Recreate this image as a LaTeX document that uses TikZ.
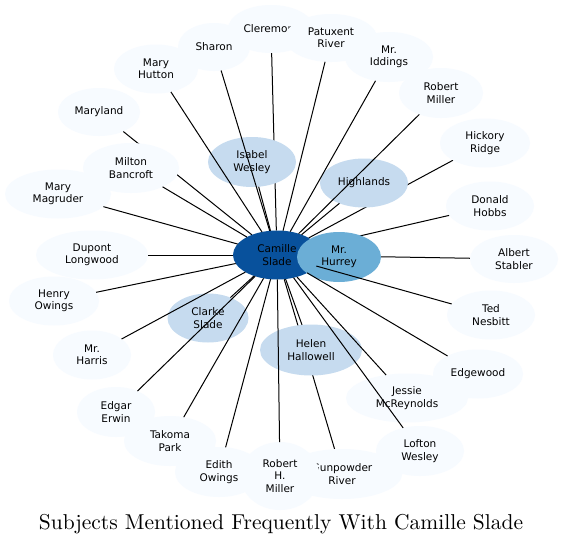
\documentclass[tikz,border=0pt]{standalone}
\usepackage{fontspec}
\newfontfamily\labelfont{DejaVu Sans}
\newfontfamily\titlefont[Extension=.otf]{lmroman10-regular}
\usetikzlibrary{shapes.geometric, backgrounds}
\definecolor{paleB}{HTML}{F7FBFF}
\definecolor{lightB}{HTML}{C6DBEF}
\definecolor{midB}{HTML}{6BAED6}
\definecolor{darkB}{HTML}{08519C}
\tikzset{
  subj/.style={
    ellipse, fill=#1, draw=none, inner sep=0pt, outer sep=0pt,
    align=center, font=\labelfont\fontsize{10.5}{12.3}\selectfont
  },
  subj/.default=paleB,
  sz/.style 2 args={minimum width=#1pt, minimum height=#2pt},
  link/.style={line width=1pt, black}
}

\begin{document}
\begin{tikzpicture}[x=1pt, y=-1pt]
  \useasboundingbox (0,0) rectangle (563,546);

  % centre and the nodes that overlap it
  \node[subj=darkB, sz={88}{49}] (camille) at (277,255) {Camille\\Slade};
  \node[subj=midB, sz={84}{50}] (hurrey) at (339,257) {Mr.\\Hurrey};
  \node[subj=lightB, sz={88}{50}] (isabel) at (252,162) {Isabel\\Wesley};
  \node[subj=lightB, sz={88}{49}] (highlands) at (364,183) {Highlands};
  \node[subj=lightB, sz={81}{49}] (clarke) at (208,318) {Clarke\\Slade};
  \node[subj=lightB, sz={102}{51}] (helen) at (311,350) {Helen\\Hallowell};

  % outer ring
  \node[subj, sz={86}{48}] (cleremont) at (271,29) {Cleremont};
  \node[subj, sz={92}{48}] (patuxent) at (331,38) {Patuxent\\River};
  \node[subj, sz={72}{48}] (sharon) at (214,47) {Sharon};
  \node[subj, sz={84}{49}] (maryhutton) at (156,69) {Mary\\Hutton};
  \node[subj, sz={82}{48}] (maryland) at (99,112) {Maryland};
  \node[subj, sz={96}{50}] (milton) at (131,168) {Milton\\Bancroft};
  \node[subj, sz={106}{49}] (magruder) at (58,194) {Mary\\Magruder};
  \node[subj, sz={112}{49}] (dupont) at (92,255) {Dupont\\Longwood};
  \node[subj, sz={90}{49}] (henry) at (54,301) {Henry\\Owings};
  \node[subj, sz={78}{49}] (harris) at (92,355) {Mr.\\Harris};
  \node[subj, sz={78}{50}] (edgar) at (116,412) {Edgar\\Erwin};
  \node[subj, sz={92}{50}] (takoma) at (170,441) {Takoma\\Park};
  \node[subj, sz={88}{50}] (edith) at (219,472) {Edith\\Owings};
  \node[subj, sz={120}{50}] (gunpowder) at (342,474) {Gunpowder\\River};
  \node[subj, sz={79}{68}] (rhmiller) at (280,476) {Robert\\H.\\Miller};
  \node[subj, sz={88}{50}] (lofton) at (420,451) {Lofton\\Wesley};
  \node[subj, sz={122}{49}] (jessie) at (407,398) {Jessie\\McReynolds};
  \node[subj, sz={90}{49}] (edgewood) at (478,374) {Edgewood};
  \node[subj, sz={88}{49}] (ted) at (491,315) {Ted\\Nesbitt};
  \node[subj, sz={88}{48}] (albert) at (514,259) {Albert\\Stabler};
  \node[subj, sz={88}{49}] (donald) at (490,206) {Donald\\Hobbs};
  \node[subj, sz={90}{49}] (hickory) at (485,143) {Hickory\\Ridge};
  \node[subj, sz={84}{50}] (robmiller) at (441,93) {Robert\\Miller};
  \node[subj, sz={88}{50}] (iddings) at (389,57) {Mr.\\Iddings};

  % links hidden behind nodes
  \begin{scope}[on background layer]
    \fill[white] (0,0) rectangle (563,546);
    \foreach \n in {hurrey, maryland, albert, gunpowder, cleremont, hickory, donald}
      \draw[link] (camille) -- (\n);
  \end{scope}

  % links over nodes
  \foreach \n in {isabel, highlands, clarke, helen, patuxent, sharon, maryhutton,
                  milton, magruder, dupont, henry, harris, edgar, takoma, edith,
                  rhmiller, lofton, jessie, edgewood, ted, robmiller, iddings}
    \draw[link] (camille) -- (\n);

  \node[font=\titlefont\fontsize{21.5}{25}\selectfont, anchor=base] (title) at (281,529)
    {Subjects Mentioned Frequently With Camille Slade};
\end{tikzpicture}
\end{document}
